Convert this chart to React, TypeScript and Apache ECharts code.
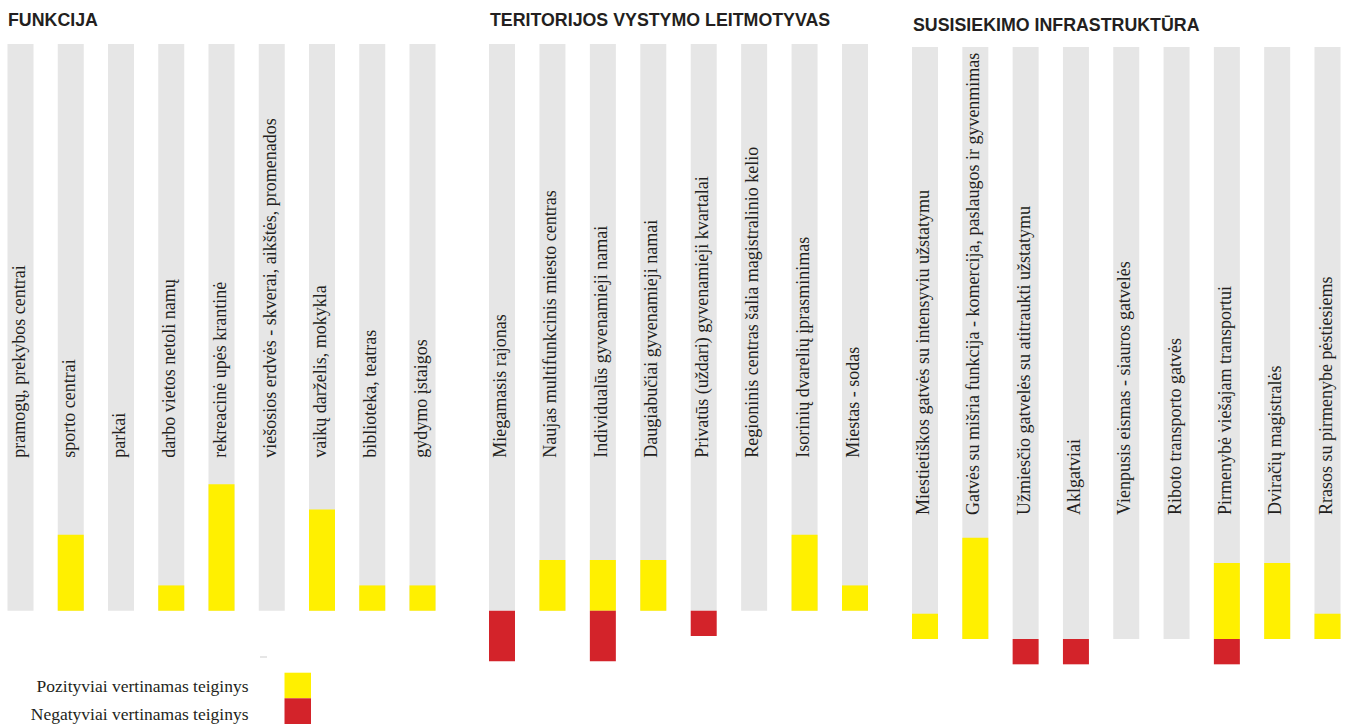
import React, { useEffect, useRef } from "react";
import * as echarts from "echarts";

// ---------- DATA ----------
const groupTitles = [
  "FUNKCIJA",
  "TERITORIJOS VYSTYMO LEITMOTYVAS",
  "SUSISIEKIMO INFRASTRUKTŪRA",
];

const funkcijaCategories = [
  "pramogų, prekybos centrai",
  "sporto centrai",
  "parkai",
  "darbo vietos netoli namų",
  "rekreacinė upės krantinė",
  "viešosios erdvės - skverai, aikštės, promenados",
  "vaikų darželis, mokykla",
  "biblioteka, teatras",
  "gydymo įstaigos",
];
const funkcijaPositive = [0, 3, 0, 1, 5, 0, 4, 1, 1];
const funkcijaNegative = [0, 0, 0, 0, 0, 0, 0, 0, 0];

const teritorijaCategories = [
  "Miegamasis rajonas",
  "Naujas multifunkcinis miesto centras",
  "Individualūs gyvenamieji namai",
  "Daugiabučiai gyvenamieji namai",
  "Privatūs (uždari) gyvenamieji kvartalai",
  "Regioninis centras šalia magistralinio kelio",
  "Isorinių dvarelių įprasminimas",
  "Miestas - sodas",
];
const teritorijaPositive = [0, 2, 2, 2, 0, 0, 3, 1];
const teritorijaNegative = [-2, 0, -2, 0, -1, 0, 0, 0];

const infraCategories = [
  "Miestietiškos gatvės su intensyviu užstatymu",
  "Gatvės su mišria funkcija - komercija, paslaugos ir gyvenmimas",
  "Užmiesčio gatvelės su atitraukti užstatymu",
  "Aklgatviai",
  "Vienpusis eismas - siauros gatvelės",
  "Riboto transporto gatvės",
  "Pirmenybė viešajam transportui",
  "Dviračių magistralės",
  "Rrasos su pirmenybe pėstiesiems",
];
const infraPositive = [1, 4, 0, 0, 0, 0, 3, 3, 1];
const infraNegative = [0, 0, -1, -1, 0, 0, -1, 0, 0];

// grey track length of each group (in the same units as the values)
const trackLength = [22.4, 22.4, 23.4];

const legendLabels = [
  "Pozityviai vertinamas teiginys",
  "Negatyviai vertinamas teiginys",
];

// ---------- STYLE / LAYOUT ----------
const GREY = "#e6e6e6";
const YELLOW = "#fff000";
const RED = "#d3232a";
const INK = "#231f20";
const UNIT = 25.3; // px per unit
const BAR_W = 26;

const groups = [
  { cats: funkcijaCategories, pos: funkcijaPositive, neg: funkcijaNegative, left: 20.5, width: 402, top: 44, min: -2, labelLift: 153, titleLeft: 8, titleTop: 11 },
  { cats: teritorijaCategories, pos: teritorijaPositive, neg: teritorijaNegative, left: 502, width: 353, top: 44, min: -2, labelLift: 153, titleLeft: 490, titleTop: 11 },
  { cats: infraCategories, pos: infraPositive, neg: infraNegative, left: 925, width: 402.5, top: 47, min: -1.2, labelLift: 124, titleLeft: 913, titleTop: 16 },
];

export default function App() {
  const ref = useRef<HTMLDivElement>(null);

  useEffect(() => {
    if (!ref.current) return;
    const chart = echarts.init(ref.current, undefined, { renderer: "svg" });

    const grid: any[] = [];
    const xAxis: any[] = [];
    const yAxis: any[] = [];
    const series: any[] = [];
    const title: any[] = [];

    groups.forEach((g, i) => {
      const max = trackLength[i];
      const height = (max - g.min) * UNIT;
      const trackPx = max * UNIT;
      grid.push({ left: g.left, top: g.top, width: g.width, height });
      xAxis.push({
        type: "category",
        gridIndex: i,
        data: g.cats,
        boundaryGap: false,
        show: false,
      });
      yAxis.push({ type: "value", gridIndex: i, min: g.min, max, show: false });
      title.push({
        text: groupTitles[i],
        left: g.titleLeft,
        top: g.titleTop,
        padding: 0,
        textStyle: {
          fontFamily: "Liberation Sans, Arial, sans-serif",
          fontWeight: "bold",
          fontSize: 17.8,
          color: INK,
        },
      });
      series.push({
        type: "bar",
        name: "track",
        xAxisIndex: i,
        yAxisIndex: i,
        data: g.cats.map(() => max),
        barWidth: BAR_W,
        barGap: "-100%",
        itemStyle: { color: GREY },
        silent: true,
        z: 1,
        label: {
          show: true,
          formatter: (p: any) => g.cats[p.dataIndex],
          position: [11, trackPx - g.labelLift],
          rotate: 90,
          align: "left",
          verticalAlign: "middle",
          fontFamily: "Liberation Serif, Times New Roman, serif",
          fontSize: 18,
          color: INK,
        },
      });
      series.push({
        type: "bar",
        name: legendLabels[0],
        xAxisIndex: i,
        yAxisIndex: i,
        data: g.pos,
        barWidth: BAR_W,
        barGap: "-100%",
        itemStyle: { color: YELLOW },
        z: 2,
      });
      series.push({
        type: "bar",
        name: legendLabels[1],
        xAxisIndex: i,
        yAxisIndex: i,
        data: g.neg,
        barWidth: BAR_W,
        barGap: "-100%",
        itemStyle: { color: RED },
        z: 2,
      });
    });

    const legendFont = {
      fontFamily: "Liberation Serif, Times New Roman, serif",
      fontSize: 17.5,
      fill: INK,
    };

    chart.setOption({
      animation: false,
      backgroundColor: "#ffffff",
      title,
      grid,
      xAxis,
      yAxis,
      series,
      graphic: [
        { type: "rect", shape: { x: 260, y: 656, width: 7, height: 2 }, style: { fill: GREY } },
        { type: "rect", shape: { x: 284.5, y: 672.7, width: 26.5, height: 25.6 }, style: { fill: YELLOW } },
        { type: "rect", shape: { x: 284.5, y: 698.3, width: 26.5, height: 26 }, style: { fill: RED } },
        {
          type: "text",
          x: 248.5,
          y: 686,
          style: { ...legendFont, text: legendLabels[0], align: "right", verticalAlign: "middle" },
        },
        {
          type: "text",
          x: 248.5,
          y: 713.5,
          style: { ...legendFont, text: legendLabels[1], align: "right", verticalAlign: "middle" },
        },
      ],
    });

    return () => chart.dispose();
  }, []);

  return (
    <div
      ref={ref}
      style={{ position: "fixed", left: 0, top: 0, width: 1349, height: 724, background: "#fff" }}
    />
  );
}
